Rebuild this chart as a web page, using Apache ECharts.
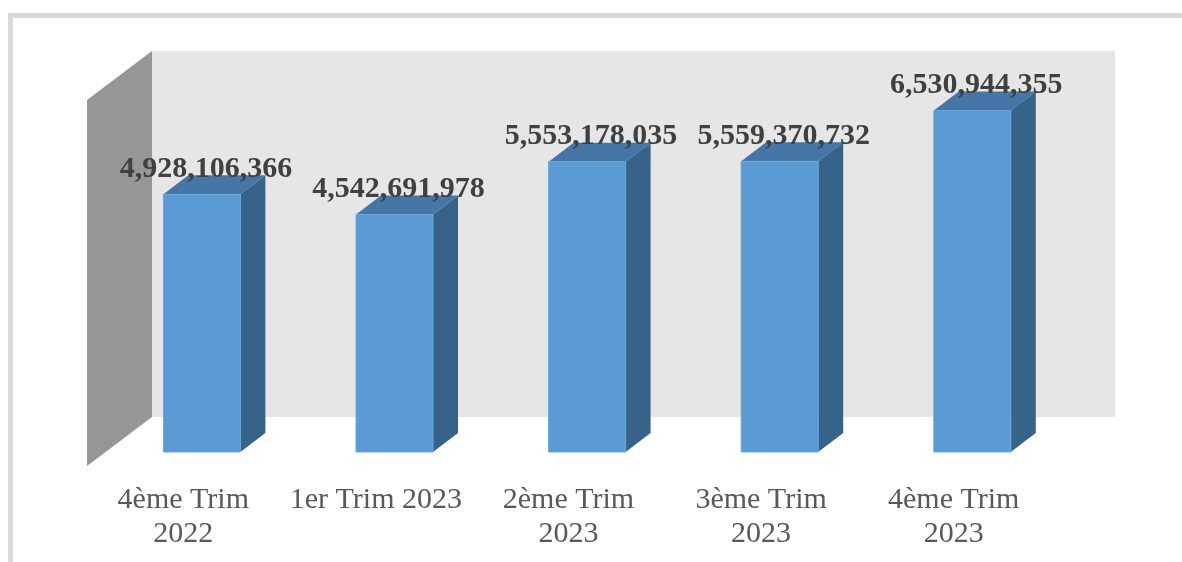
<!DOCTYPE html>
<html>
<head>
<meta charset="utf-8">
<script src="https://cdn.jsdelivr.net/npm/echarts@6/dist/echarts.min.js"></script>
<style>
  html, body { margin: 0; padding: 0; background: #fff; }
  #chart { width: 1182px; height: 562px; }
</style>
</head>
<body>
<div id="chart"></div>
<script>
// données
const categories = ['4ème Trim\n2022', '1er Trim 2023', '2ème Trim\n2023', '3ème Trim\n2023', '4ème Trim\n2023']
const values = [4928106366, 4542691978, 5553178035, 5559370732, 6530944355]
const axisMax = 7000000000

// profondeur de la boite 3D (mur) et des barres
const WALL_DX = 65, WALL_DY = -49
const BAR_OFF_X = 18.6, BAR_OFF_Y = -14
const BAR_DX = 25, BAR_DY = -19
const BAR_W = 77

const fmt = v => v.toString().replace(/\B(?=(\d{3})+(?!\d))/g, ',')

const chart = echarts.init(document.getElementById('chart'))

// murs du fond et de gauche
const renderWalls = (params, api) => {
    const cs = params.coordSys
    const x = cs.x, y = cs.y, w = cs.width, h = cs.height
    return {
        type: 'group',
        children: [{
            type: 'rect',
            shape: { x: x + WALL_DX, y: y + WALL_DY, width: w, height: h },
            style: { fill: '#e6e6e6' }
        }, {
            type: 'polygon',
            shape: {
                points: [[x, y], [x + WALL_DX, y + WALL_DY], [x + WALL_DX, y + h + WALL_DY], [x, y + h]]
            },
            style: { fill: '#969696' }
        }]
    }
}

// barres 3D
const renderBar = (params, api) => {
    const idx = api.value(0)
    const top = api.coord([idx, api.value(1)])
    const base = api.coord([idx, 0])
    const cx = top[0] + BAR_OFF_X
    const x0 = cx - BAR_W / 2, x1 = cx + BAR_W / 2
    const yt = top[1] + BAR_OFF_Y, yb = base[1] + BAR_OFF_Y
    return {
        type: 'group',
        children: [{
            type: 'polygon',
            shape: { points: [[x1, yt], [x1 + BAR_DX, yt + BAR_DY], [x1 + BAR_DX, yb + BAR_DY], [x1, yb]] },
            style: { fill: '#386388' }
        }, {
            type: 'polygon',
            shape: { points: [[x0, yt], [x0 + BAR_DX, yt + BAR_DY], [x1 + BAR_DX, yt + BAR_DY], [x1, yt]] },
            style: { fill: '#4576a5' }
        }, {
            type: 'rect',
            shape: { x: x0, y: yt, width: BAR_W, height: yb - yt },
            style: { fill: '#5b9bd5', stroke: '#6aa6dc', lineWidth: 1 }
        }, {
            type: 'text',
            x: cx + 4,
            y: yt + BAR_DY + 9,
            style: {
                text: fmt(api.value(1)),
                fill: '#404040',
                font: 'bold 30px "Liberation Serif"',
                align: 'center',
                verticalAlign: 'bottom'
            }
        }]
    }
}

const option = {
    animation: false,
    backgroundColor: '#ffffff',
    grid: { left: 87, top: 100, width: 963, height: 366, containLabel: false },
    xAxis: {
        type: 'category',
        data: categories,
        axisLine: { show: false },
        axisTick: { show: false },
        splitLine: { show: false },
        axisLabel: {
            interval: 0,
            margin: 17,
            color: '#595959',
            fontSize: 30,
            fontFamily: 'Liberation Serif',
            lineHeight: 34,
            verticalAlign: 'top'
        }
    },
    yAxis: {
        type: 'value',
        min: 0,
        max: axisMax,
        show: false
    },
    graphic: [
        { type: 'rect', left: 8, top: 13, shape: { width: 1174, height: 5 }, style: { fill: '#d9d9d9' } },
        { type: 'rect', left: 8, top: 13, shape: { width: 5, height: 549 }, style: { fill: '#d9d9d9' } }
    ],
    series: [{
        type: 'custom',
        renderItem: renderWalls,
        data: [[0, 0]],
        z: 1,
        silent: true
    }, {
        type: 'custom',
        renderItem: renderBar,
        data: values.map((v, i) => [i, v]),
        encode: { x: 0, y: 1 },
        z: 2
    }]
}

chart.setOption(option)
</script>
</body>
</html>
